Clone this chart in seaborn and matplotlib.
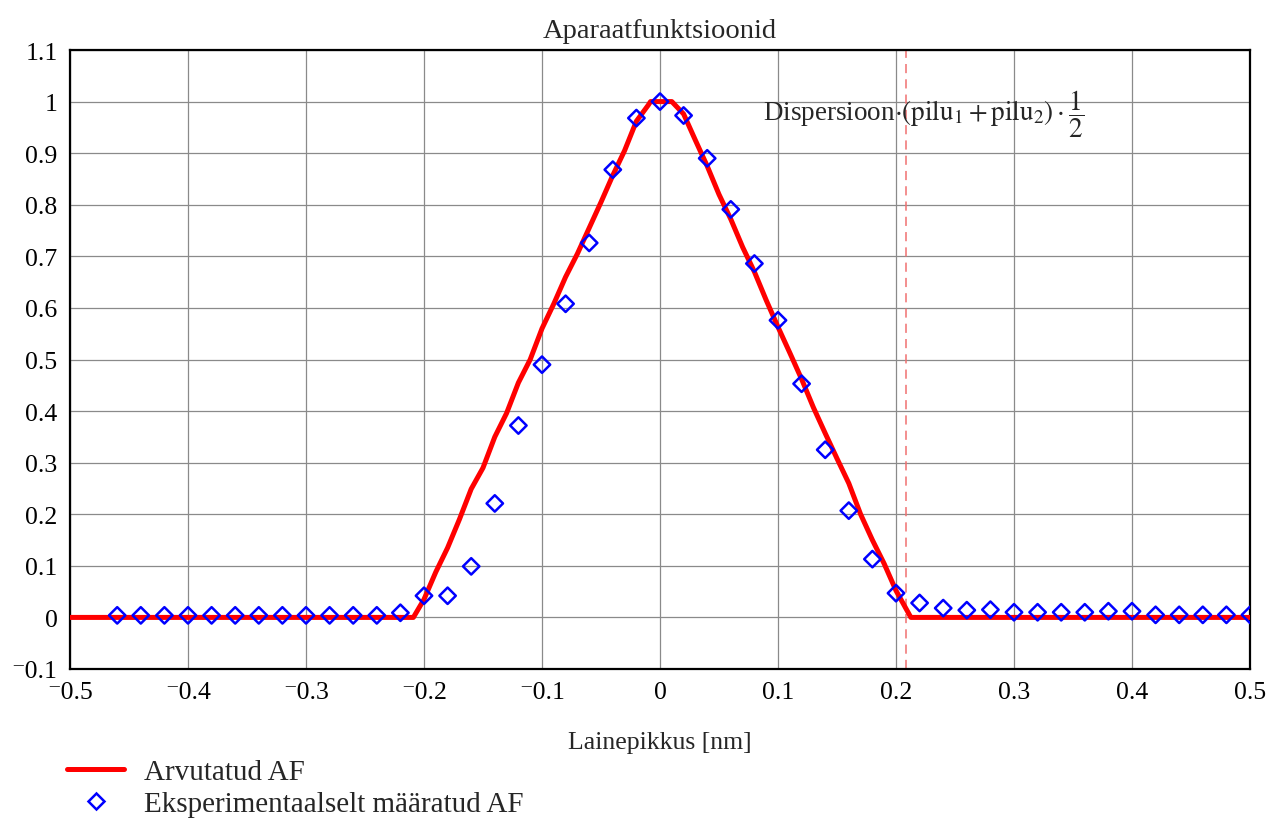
import numpy as np
import pandas as pd
import matplotlib
matplotlib.use("Agg")
import matplotlib.pyplot as plt
from matplotlib.ticker import FixedLocator, FuncFormatter
from matplotlib.lines import Line2D
import seaborn as sns

# Computed instrument function (wavelength in nm, normalised intensity)
calc_x = [-0.5, -0.209, -0.20, -0.19, -0.18, -0.17, -0.16, -0.15, -0.14, -0.13,
          -0.12, -0.11, -0.10, -0.09, -0.08, -0.07, -0.06, -0.05, -0.04, -0.03,
          -0.02, -0.01, -0.008, 0.0, 0.01, 0.02, 0.03, 0.04, 0.05, 0.06, 0.07,
          0.08, 0.09, 0.10, 0.11, 0.12, 0.13, 0.14, 0.15, 0.16, 0.17, 0.18,
          0.19, 0.20, 0.2126, 0.5]
calc_y = [0.0, 0.0, 0.035, 0.088, 0.135, 0.19, 0.249, 0.29, 0.35, 0.396,
          0.455, 0.50, 0.56, 0.608, 0.66, 0.705, 0.755, 0.805, 0.857, 0.905,
          0.962, 0.993, 1.0, 1.0, 1.0, 0.976, 0.925, 0.875, 0.82, 0.772, 0.718,
          0.67, 0.615, 0.563, 0.513, 0.462, 0.407, 0.357, 0.308, 0.26, 0.20, 0.15,
          0.104, 0.052, 0.0, 0.0]

# Experimentally determined instrument function
exp_x = [-0.46, -0.44, -0.42, -0.40, -0.38, -0.36, -0.34, -0.32, -0.30, -0.28,
         -0.26, -0.24, -0.22, -0.20, -0.18, -0.16, -0.14, -0.12, -0.10, -0.08,
         -0.06, -0.04, -0.02, 0.0, 0.02, 0.04, 0.06, 0.08, 0.10, 0.12, 0.14,
         0.16, 0.18, 0.20, 0.22, 0.24, 0.26, 0.28, 0.30, 0.32, 0.34, 0.36,
         0.38, 0.40, 0.42, 0.44, 0.46, 0.48, 0.50]
exp_y = [0.004, 0.004, 0.004, 0.004, 0.004, 0.004, 0.004, 0.004, 0.004, 0.004,
         0.004, 0.004, 0.009, 0.042, 0.042, 0.099, 0.221, 0.372, 0.49, 0.608,
         0.726, 0.868, 0.968, 1.0, 0.973, 0.89, 0.791, 0.686, 0.576, 0.453, 0.325,
         0.207, 0.113, 0.047, 0.028, 0.018, 0.014, 0.015, 0.01, 0.01, 0.01, 0.01,
         0.012, 0.012, 0.005, 0.005, 0.005, 0.005, 0.005]

# Dispersion marker position (nm)
marker_x = 0.2085

x_ticks = [-0.5, -0.4, -0.3, -0.2, -0.1, 0.0, 0.1, 0.2, 0.3, 0.4, 0.5]
y_ticks = [-0.1, 0.0, 0.1, 0.2, 0.3, 0.4, 0.5, 0.6, 0.7, 0.8, 0.9, 1.0, 1.1]

calc_df = pd.DataFrame({"x": calc_x, "y": calc_y})
exp_df = pd.DataFrame({"x": exp_x, "y": exp_y})

sns.set_theme(style="white")
plt.rcParams["font.family"] = ["Liberation Serif", "DejaVu Serif"]
plt.rcParams["mathtext.fontset"] = "stix"

fig = plt.figure(figsize=(12.76, 8.2), dpi=100)
ax = fig.add_axes([70 / 1276, 1 - 670 / 820, 1180 / 1276, 619 / 820])

sns.lineplot(data=calc_df, x="x", y="y", ax=ax, color="#ff0000", lw=3.6,
             sort=False, estimator=None, zorder=3)
sns.scatterplot(data=exp_df, x="x", y="y", ax=ax, marker="D", s=70,
                facecolor="none", edgecolor="#0000ff", linewidth=1.8, zorder=4)

ax.axvline(marker_x, color="#f07070", lw=1.1, ls=(0, (6, 4)), zorder=2)

ax.set_xlim(-0.5, 0.5)
ax.set_ylim(-0.1, 1.1)
ax.xaxis.set_major_locator(FixedLocator(x_ticks))
ax.yaxis.set_major_locator(FixedLocator(y_ticks))


def fmt(v, _pos):
    s = f"{v:.1f}".rstrip("0").rstrip(".")
    if s in ("-0", ""):
        s = "0"
    # negative numbers carry a raised minus in front of the digits
    return s.replace("-", "\u207b")


ax.xaxis.set_major_formatter(FuncFormatter(fmt))
ax.yaxis.set_major_formatter(FuncFormatter(fmt))
ax.tick_params(axis="both", length=0, labelsize=18.5, pad=9, colors="black")
ax.grid(True, color="#8a8a8a", lw=0.9)
for sp in ax.spines.values():
    sp.set_visible(True)
    sp.set_color("black")
    sp.set_linewidth(1.6)

ax.set_xlabel("Lainepikkus [nm]", fontsize=18.5, labelpad=20)
ax.set_ylabel("")
ax.set_title("Aparaatfunktsioonid", fontsize=20.5, pad=9)

ax.text(0.0872, 0.978,
        r"Dispersioon$\cdot\left(\mathrm{pilu}_{1}+\mathrm{pilu}_{2}\right)\cdot\dfrac{1}{2}$",
        fontsize=19.5, ha="left", va="center", zorder=5)

handles = [
    Line2D([], [], color="#ff0000", lw=3.6),
    Line2D([], [], color="#0000ff", marker="D", ls="none", markersize=8.4,
           markerfacecolor="none", markeredgewidth=1.8),
]
labels = ["Arvutatud AF", "Eksperimentaalselt määratud AF"]
fig.legend(handles, labels, loc="lower left", bbox_to_anchor=(67 / 1276, 0.002),
           frameon=False, fontsize=21, handlelength=1.97, handletextpad=0.68,
           labelspacing=0.2, borderpad=0, borderaxespad=0)

fig.savefig("out.png", dpi=100)
